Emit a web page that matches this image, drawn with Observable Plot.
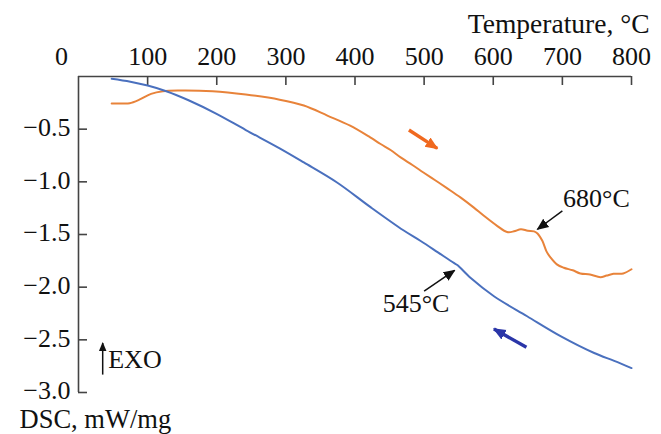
<!DOCTYPE html>
<html>
<head>
<meta charset="utf-8">
<script src="https://cdn.jsdelivr.net/npm/d3@7"></script>
<script src="https://cdn.jsdelivr.net/npm/@observablehq/plot@0.6"></script>
<style>
  html, body { margin: 0; padding: 0; background: #fff; }
  #chart svg { display: block; }
</style>
</head>
<body>
<div id="chart"></div>
<script>
// DSC heating curve (orange) — temperature, °C
const heatT = [48, 65, 74, 88, 105, 122, 146, 194, 242, 291, 326, 360, 393, 422, 437, 452, 466, 483, 499, 516, 533, 553, 572, 586, 606, 620, 630, 640, 650, 659, 664, 671, 677, 683, 692, 702, 715, 726, 740, 755, 764, 774, 788, 800];
// DSC heating curve (orange) — signal, mW/mg
const heatV = [-0.257, -0.257, -0.254, -0.22, -0.165, -0.14, -0.133, -0.14, -0.171, -0.22, -0.276, -0.371, -0.467, -0.578, -0.641, -0.70, -0.768, -0.84, -0.911, -0.985, -1.06, -1.15, -1.245, -1.32, -1.42, -1.476, -1.47, -1.45, -1.465, -1.47, -1.49, -1.56, -1.66, -1.72, -1.784, -1.816, -1.84, -1.87, -1.88, -1.905, -1.89, -1.873, -1.87, -1.83];

// DSC cooling curve (blue) — temperature, °C
const coolT = [48, 75, 100, 127, 160, 199, 242, 291, 326, 374, 422, 470, 495, 520, 543, 548, 567, 601, 649, 698, 746, 775, 800];
// DSC cooling curve (blue) — signal, mW/mg
const coolV = [-0.022, -0.05, -0.086, -0.14, -0.228, -0.352, -0.508, -0.682, -0.816, -1.006, -1.238, -1.46, -1.562, -1.67, -1.77, -1.79, -1.911, -2.086, -2.276, -2.467, -2.625, -2.70, -2.768];

// Axis ticks
const xTicks = [100, 200, 300, 400, 500, 600, 700, 800];
const yTicks = [-0.5, -1.0, -1.5, -2.0, -2.5, -3.0];

// Callouts: label, label anchor (T, V), arrow from (T, V) to the curve
const calloutText = ["680°C", "545°C"];
const calloutT = [701, 440];
const calloutV = [-1.24, -2.24];
const calloutFrom = [[700, -1.276], [500, -2.038]];
const calloutTo = [[664, -1.45], [544, -1.841]];

// Scan direction arrows: heating (right/down), cooling (left/up)
const dirFrom = [[478, -0.508], [648, -2.571]];
const dirTo = [[519, -0.683], [601, -2.397]];
const dirColor = ["#F0691F", "#2A35A8"];

const heat = heatT.map((t, i) => ({t, v: heatV[i]}));
const cool = coolT.map((t, i) => ({t, v: coolV[i]}));
const callouts = calloutText.map((s, i) => ({s, t: calloutT[i], v: calloutV[i], x1: calloutFrom[i][0], y1: calloutFrom[i][1], x2: calloutTo[i][0], y2: calloutTo[i][1]}));
const dirs = dirFrom.map((p, i) => ({x1: p[0], y1: p[1], x2: dirTo[i][0], y2: dirTo[i][1], c: dirColor[i]}));

const W = 661, H = 434;
const mL = 78, mR = 30, mT = 76, mB = 42;
const innerW = W - mL - mR, innerH = H - mT - mB;
const fmt = d => "\u2212" + Math.abs(d).toFixed(1);
const axisColor = "#444";

// Filled triangular arrowhead; size is in stroke-width units
const filledHead = size => (color) =>
  d3.create("svg:marker")
    .attr("viewBox", "0 -5 10 10")
    .attr("markerWidth", size)
    .attr("markerHeight", size)
    .attr("refX", 9)
    .attr("orient", "auto")
    .attr("fill", color)
    .attr("stroke", "none")
    .call(m => m.append("path").attr("d", "M0,-4.2L10,0L0,4.2Z"))
    .node();

const chart = Plot.plot({
  width: W,
  height: H,
  marginLeft: mL,
  marginRight: mR,
  marginTop: mT,
  marginBottom: mB,
  style: {fontFamily: "'Liberation Serif', 'Times New Roman', serif", fontSize: "26px", color: "#111", background: "#fff"},
  x: {domain: [0, 800], axis: null},
  y: {domain: [-3, 0], axis: null},
  marks: [
    // axis lines
    Plot.ruleY([0], {stroke: axisColor, strokeWidth: 1.6}),
    Plot.ruleX([0], {stroke: axisColor, strokeWidth: 1.6}),
    // inward ticks
    Plot.tickX(xTicks, {x: d => d, stroke: axisColor, strokeWidth: 1.6, insetBottom: innerH - 9}),
    Plot.tickY(yTicks, {y: d => d, stroke: axisColor, strokeWidth: 1.6, insetRight: innerW - 9}),
    // tick labels
    Plot.text(xTicks, {x: d => d, frameAnchor: "top", text: d => String(d), lineAnchor: "bottom", dy: -12, fill: "#111"}),
    Plot.text([0], {x: d => d, frameAnchor: "top", text: d => String(d), lineAnchor: "bottom", dy: -12, dx: -17, fill: "#111"}),
    Plot.text(yTicks, {y: d => d, frameAnchor: "left", text: fmt, textAnchor: "end", dx: -8, dy: -1.5, fill: "#111"}),
    // axis titles
    Plot.text(["Temperature, °C"], {frameAnchor: "top-right", textAnchor: "end", lineAnchor: "bottom", dx: 18, dy: -44, fontSize: 27.5, fill: "#111"}),
    Plot.text(["DSC, mW/mg"], {frameAnchor: "bottom-left", textAnchor: "start", lineAnchor: "bottom", dx: -59, dy: 35.5, fontSize: 26.5, fill: "#111"}),
    // curves
    Plot.line(heat, {x: "t", y: "v", stroke: "#E8833A", strokeWidth: 2, curve: "catmull-rom"}),
    Plot.line(cool, {x: "t", y: "v", stroke: "#4A70BE", strokeWidth: 2, curve: "catmull-rom"}),
    // direction arrows
    Plot.link(dirs, {x1: "x1", y1: "y1", x2: "x2", y2: "y2", stroke: "c", strokeWidth: 3.4, markerEnd: filledHead(3.8)}),
    // callouts
    Plot.link(callouts, {x1: "x1", y1: "y1", x2: "x2", y2: "y2", stroke: "#111", strokeWidth: 1.5, markerEnd: filledHead(8)}),
    Plot.text(callouts, {x: "t", y: "v", text: "s", textAnchor: "start", lineAnchor: "bottom", fill: "#111"}),
    // exotherm direction marker
    Plot.link([{x1: 35, y1: -2.83, x2: 35, y2: -2.53}], {x1: "x1", y1: "y1", x2: "x2", y2: "y2", stroke: "#111", strokeWidth: 1.5, markerEnd: filledHead(6)}),
    Plot.text(["EXO"], {x: 43, y: -2.77, textAnchor: "start", lineAnchor: "bottom", fill: "#111"})
  ]
});

document.getElementById("chart").appendChild(chart);
</script>
</body>
</html>
